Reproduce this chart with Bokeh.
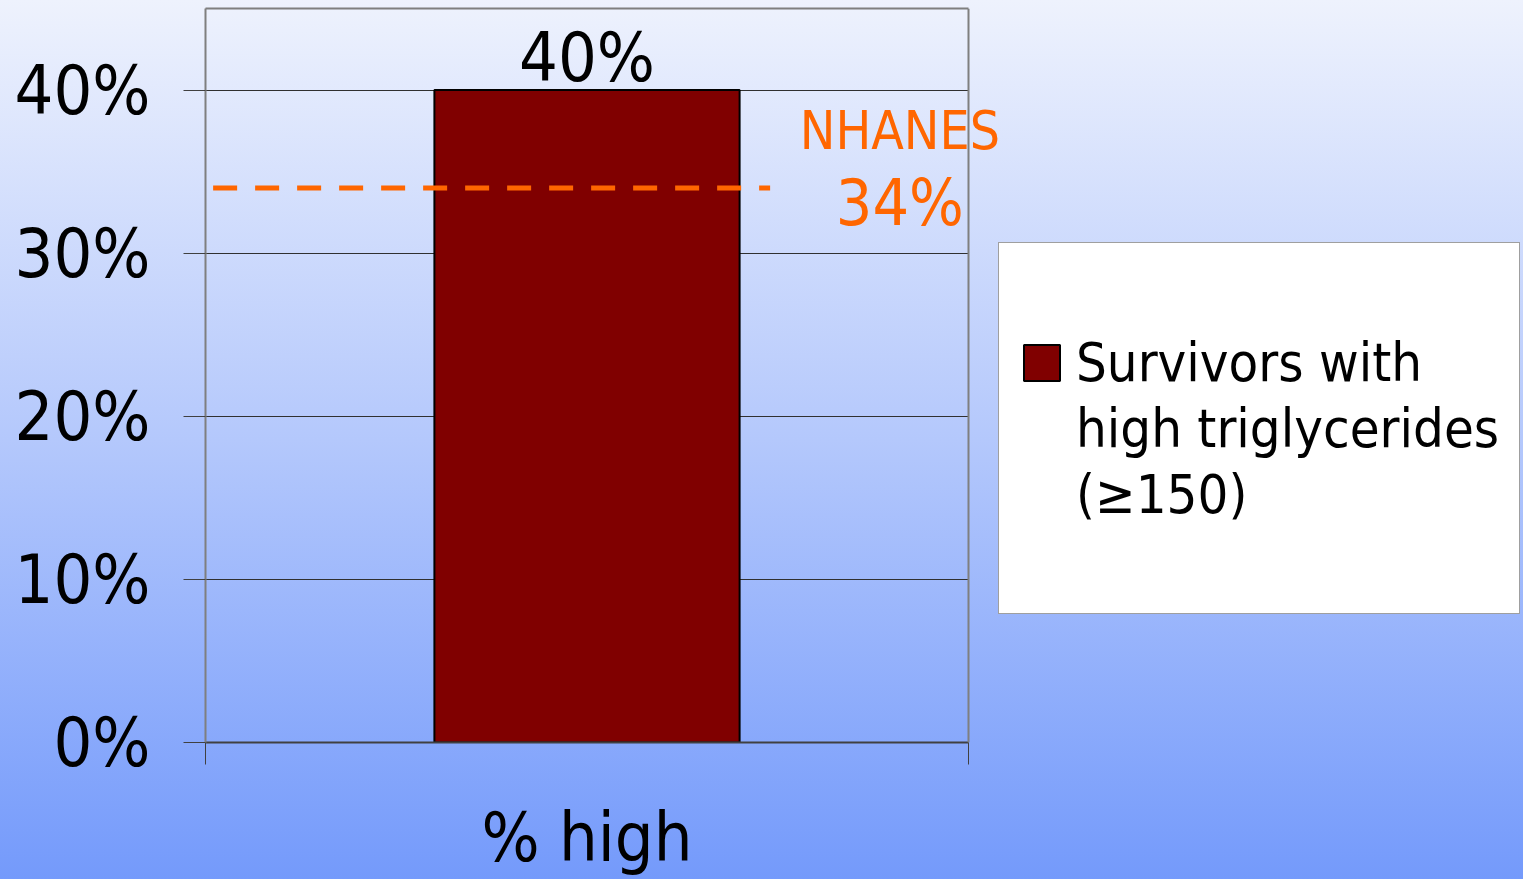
from bokeh.plotting import figure
from bokeh.models import (Range1d, FixedTicker, Label, Legend, LegendItem,
                          ColumnDataSource, LinearAxis, Span)
from bokeh.core.properties import value
from bokeh.embed import file_html
from bokeh.resources import INLINE

# --- data -------------------------------------------------------------
categories = ["% high"]
survivors_pct = [0.40]
survivors_labels = ["40%"]
nhanes_pct = 0.34
nhanes_name = "NHANES"
nhanes_label = "34%"
y_ticks = [0.0, 0.1, 0.2, 0.3, 0.4]
y_tick_labels = ["0%", "10%", "20%", "30%", "40%"]
legend_lines = ["Survivors with", "high triglycerides", "(\u2265150)"]

FONT = "DejaVu Sans Condensed"
BAR_COLOR = "#800000"
NHANES_COLOR = "#ff6600"
BORDER = "#7f7f7f"
DARK = "#404040"

# The frame spans the whole width right of the y axis; the plot area
# (one category = PLOT_AREA_PX pixels) takes its left part, leaving room
# on the right for the reference label and the legend.
W, H = 1523, 879
LEFT, TOP, BOTTOM = 205, 8, 137
PLOT_AREA_PX = 763
n = len(categories)
x_end = n * (W - LEFT) / PLOT_AREA_PX

p = figure(width=W, height=H, output_backend="svg", toolbar_location=None,
           x_range=Range1d(0, x_end), y_range=Range1d(0, 0.45),
           x_axis_type=None,
           min_border_left=LEFT, min_border_right=0,
           min_border_top=TOP, min_border_bottom=BOTTOM)
p.background_fill_alpha = 0
p.border_fill_alpha = 0
p.styles = {"background": "linear-gradient(to bottom, #eef2fd 0%, #b4c8fc 50%, #749afb 100%)"}
p.outline_line_color = None

# --- axes -------------------------------------------------------------
centers = [i + 0.5 for i in range(n)]
xaxis = LinearAxis(bounds=(0, n),
                   ticker=FixedTicker(ticks=centers, minor_ticks=list(range(n + 1))))
xaxis.major_label_overrides = {c: lab for c, lab in zip(centers, categories)}
xaxis.major_tick_line_color = None
xaxis.major_tick_out = 0
xaxis.major_tick_in = 0
xaxis.minor_tick_out = 22
xaxis.minor_tick_in = 0
xaxis.minor_tick_line_color = DARK
xaxis.axis_line_color = DARK
xaxis.axis_line_width = 2
xaxis.major_label_standoff = 33
xaxis.major_label_text_font = FONT
xaxis.major_label_text_font_size = "68px"
xaxis.major_label_text_color = "black"
p.add_layout(xaxis, "below")

# top edge of the plot area
top_edge = LinearAxis(bounds=(0, n), ticker=FixedTicker(ticks=[], minor_ticks=[]),
                      axis_line_color=BORDER, axis_line_width=2,
                      major_tick_line_color=None, minor_tick_line_color=None,
                      major_label_text_font_size="0px")
p.add_layout(top_edge, "above")

# right edge of the plot area
p.add_layout(Span(location=n, dimension="height", line_color=BORDER, line_width=2))

p.yaxis.ticker = FixedTicker(ticks=y_ticks, minor_ticks=[])
p.yaxis.major_label_overrides = {t: lab for t, lab in zip(y_ticks, y_tick_labels)}
p.yaxis.axis_line_color = BORDER
p.yaxis.axis_line_width = 2
p.yaxis.major_tick_out = 22
p.yaxis.major_tick_in = 0
p.yaxis.major_tick_line_color = DARK
p.yaxis.major_label_standoff = 33
p.yaxis.major_label_text_font = FONT
p.yaxis.major_label_text_font_size = "68px"
p.yaxis.major_label_text_color = "black"

p.ygrid.ticker = FixedTicker(ticks=y_ticks)
p.ygrid.cross_bounds = (0, n)
p.ygrid.grid_line_color = "#303030"
p.ygrid.grid_line_width = 1

# --- bars -------------------------------------------------------------
src = ColumnDataSource(dict(x=centers, top=survivors_pct, label=survivors_labels))
bars = p.vbar(x="x", top="top", width=0.4, source=src,
              fill_color=BAR_COLOR, line_color="black", line_width=2)

p.text(x="x", y="top", text="label", source=src, text_align="center",
       text_baseline="alphabetic", y_offset=-33, text_font=value(FONT),
       text_font_size="68px", text_color="black")

# --- NHANES reference -------------------------------------------------
p.line(x=[0.01, 0.74], y=[nhanes_pct, nhanes_pct], line_color=NHANES_COLOR,
       line_width=5, line_dash="24 18")
p.add_layout(Label(x=0.91, y=nhanes_pct, y_offset=57, text=nhanes_name,
                   text_align="center", text_baseline="alphabetic",
                   text_font=FONT, text_font_size="53px",
                   text_color=NHANES_COLOR))
p.add_layout(Label(x=0.91, y=nhanes_pct, y_offset=-15, text=nhanes_label,
                   text_align="center", text_baseline="alphabetic",
                   text_font=FONT, text_font_size="64px",
                   text_color=NHANES_COLOR))

# --- legend -----------------------------------------------------------
blank = p.vbar(x=[], top=[], width=0.4, fill_color=None, line_color=None)
rows = [" "] + legend_lines + [" "]
items = [LegendItem(label=text, renderers=[bars if i == 1 else blank])
         for i, text in enumerate(rows)]

legend = Legend(items=items, location=(793, 128), padding=20, spacing=0,
                margin=0, glyph_width=45, glyph_height=45, label_standoff=12,
                label_height=66, label_text_font=FONT,
                label_text_font_size="54px", label_text_color="black",
                background_fill_color="white", background_fill_alpha=1,
                border_line_color=DARK, border_line_width=1.5)
p.add_layout(legend, "center")

open("out.html", "w").write(file_html(p, INLINE))
